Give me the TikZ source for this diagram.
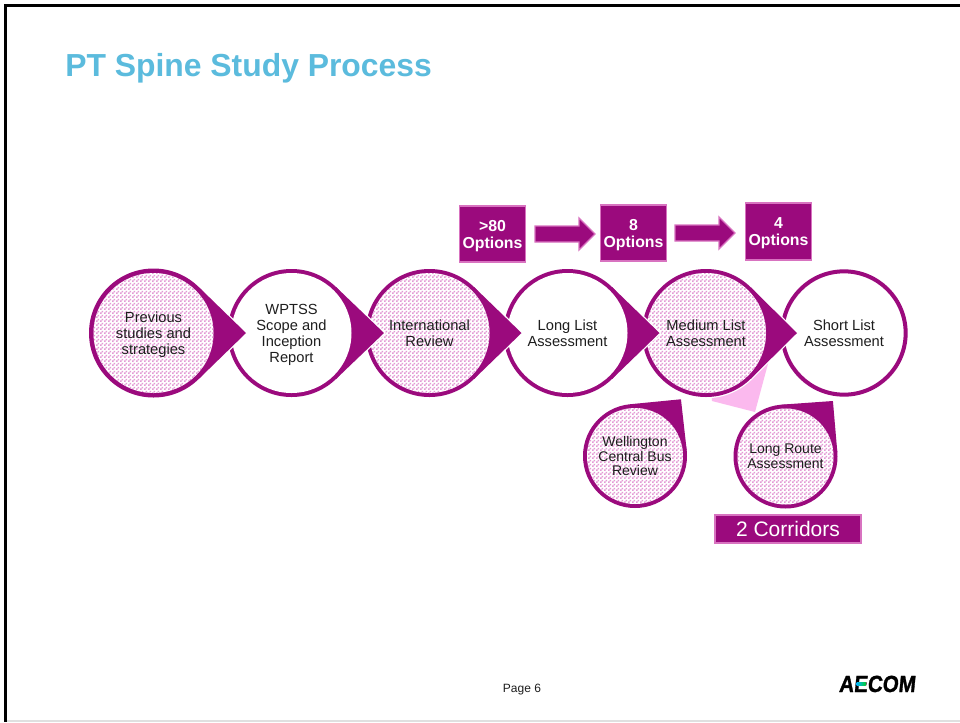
\documentclass[tikz,border=0pt]{standalone}
\usepackage{fontspec}
\setmainfont{Liberation Sans}
\newfontfamily\logofont[FakeStretch=0.88,FakeSlant=0.1,FakeBold=1.2]{Liberation Sans Bold}
\usetikzlibrary{patterns}
\definecolor{plum}{HTML}{9B0A7D}
\definecolor{plumedge}{HTML}{D873C0}
\definecolor{dotpink}{HTML}{E39AD4}
\definecolor{softpink}{HTML}{FBB9EE}
\definecolor{titleblue}{HTML}{5BBBDD}
\definecolor{inkgrey}{HTML}{1E1E1E}
\pgfdeclarepatternformonly{pinkweave}{\pgfqpoint{0pt}{0pt}}{\pgfqpoint{3pt}{3pt}}{\pgfqpoint{3pt}{3pt}}{%
  \pgfpathrectangle{\pgfqpoint{0pt}{0pt}}{\pgfqpoint{1.5pt}{1.5pt}}%
  \pgfpathrectangle{\pgfqpoint{1.5pt}{1.5pt}}{\pgfqpoint{1.5pt}{1.5pt}}%
  \pgfusepath{fill}}
% teardrop: cx, cy, R, tip angle, tip distance, tangent half angle
\newcommand{\teardrop}[6]{%
  \draw[white,line width=1.9pt] (#1,#2) circle (#3);
  \draw[white,line width=1.9pt,line join=miter] (#1,#2) -- +({#4+#6}:#3) -- +(#4:#5) -- +({#4-#6}:#3) -- cycle;
  \fill[plum] (#1,#2) circle (#3);
  \fill[plum] (#1,#2) -- +({#4+#6}:#3) -- +(#4:#5) -- +({#4-#6}:#3) -- cycle;
}
\tikzset{
  ring/.style={circle,inner sep=0pt,minimum size=90pt,align=center,text=inkgrey,font=\fontsize{11}{12}\selectfont},
  whitering/.style={ring,fill=white},
  dotring/.style={ring,preaction={fill=white},pattern=pinkweave,pattern color=dotpink},
  smallring/.style={circle,inner sep=0pt,minimum size=72pt,align=center,text=inkgrey,font=\fontsize{10.5}{11.2}\selectfont,preaction={fill=white},pattern=pinkweave,pattern color=dotpink},
  optionbox/.style={rectangle,inner sep=0pt,fill=plum,draw=plumedge,line width=1.3pt,text=white,align=center,font=\fontsize{11.9}{12.4}\selectfont\bfseries},
  blockarrow/.style={fill=plum,draw=plumedge,line width=1pt,line join=miter}
}
\begin{document}
\begin{tikzpicture}[x=0.75pt,y=-0.75pt]
\useasboundingbox (0,0) rectangle (960,722);
\fill[white] (0,0) rectangle (960,722);
% slide frame
\draw[black!12,line width=1.2pt] (5,721) -- (960,721);
\draw[black,line width=2.3pt] (960,5.5) -- (5.5,5.5) -- (5.5,722);
% title
\node[anchor=base west,inner sep=0pt,text=titleblue,font=\fontsize{23.9}{26}\selectfont\bfseries] (title) at (65,76) {PT Spine Study Process};
% main chain, last to first so that each tip lies over the next circle
\node[whitering,draw=plum,line width=3pt,minimum size=92.5pt] (c6) at (844,333) {Short List\\Assessment};
\fill[softpink] (712,401) -- (755,412) -- (769,360) -- (706,333) -- cycle;
\teardrop{706}{333}{64}{0}{91}{45.3}
\node[dotring] (c5) at (706,333) {Medium List\\Assessment};
\teardrop{567.5}{333}{64}{0}{92}{45.9}
\node[whitering] (c4) at (567.5,333) {Long List\\Assessment};
\teardrop{429.5}{333}{64}{0}{92}{45.9}
\node[dotring] (c3) at (429.5,333) {International\\Review};
\teardrop{291.5}{333}{64}{0}{92.5}{46.2}
\node[whitering] (c2) at (291.5,333) {\rule{0pt}{11pt}WPTSS\\Scope and\\Inception\\Report};
\teardrop{153.5}{333}{64.5}{0}{92.5}{45.8}
\node[dotring] (c1) at (153.5,333) {\rule{0pt}{11pt}Previous\\studies and\\strategies};
% branch circles
\teardrop{635}{456}{52}{-51}{73}{44.6}
\node[smallring] (w) at (635,456) {Wellington\\Central Bus\\Review};
\teardrop{785.5}{456.5}{52}{-49.5}{73}{44.6}
\node[smallring] (l) at (785.5,456.5) {Long Route\\Assessment};
% option boxes
\node[optionbox,minimum width=49.5pt,minimum height=42.5pt] (o80) at (492.5,234) {\rule{0pt}{11.5pt}>80\\Options};
\node[optionbox,minimum width=49.5pt,minimum height=42.5pt] (o8) at (633.5,233) {\rule{0pt}{11.5pt}8\\Options};
\node[optionbox,minimum width=49.5pt,minimum height=42.5pt] (o4) at (778.5,231.5) {\rule{0pt}{10.5pt}4\\Options};
\draw[blockarrow] (535,226) -- (579,226) -- (579,218) -- (595,234) -- (579,250) -- (579,242) -- (535,242) -- cycle;
\draw[blockarrow] (675,225) -- (719,225) -- (719,217) -- (735,233) -- (719,249) -- (719,241) -- (675,241) -- cycle;
\node[rectangle,inner sep=0pt,fill=plum,draw=plumedge,line width=1.3pt,minimum width=110pt,minimum height=21pt,text=white,font=\fontsize{15.75}{18}\selectfont] (corr) at (788,529) {2 Corridors};
% footer
\node[inner sep=0pt,text=inkgrey,font=\fontsize{9}{10}\selectfont] (page) at (522,690) {Page 6};
\node[anchor=base west,inner sep=0pt,text=black,font=\logofont\fontsize{17.5}{18}\selectfont] (logo) at (838.5,692) {AECOM};
\shade[left color=cyan!70!blue,right color=green!60!teal] (856.5,682) rectangle (865.5,685.5);
\end{tikzpicture}
\end{document}
